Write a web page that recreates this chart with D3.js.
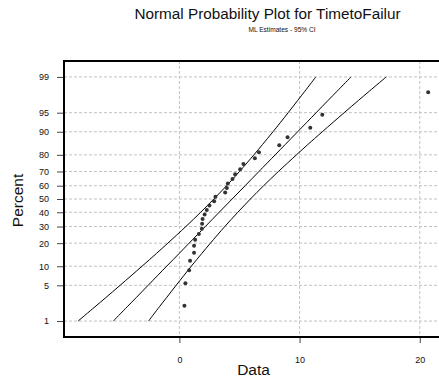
<!DOCTYPE html>
<html>
<head>
<meta charset="utf-8">
<script src="https://cdn.jsdelivr.net/npm/d3@7/dist/d3.min.js"></script>
<style>
  html, body { margin: 0; padding: 0; background: #fff; }
  svg { display: block; font-family: "Liberation Sans", Arial, sans-serif; }
</style>
</head>
<body>
<svg id="chart" width="439" height="381"></svg>
<script>
// ---- data ----
const dataValues = [0.42, 0.50, 0.81, 0.89, 1.22, 1.22, 1.31, 1.62, 1.87, 1.89,
                    1.93, 2.10, 2.28, 2.50, 2.89, 3.00, 3.81, 3.95, 4.03, 4.42,
                    4.64, 5.06, 5.33, 6.28, 6.62, 8.31, 9.00, 10.89, 11.89, 20.70];
const dataPercents = [2.1, 5.4, 8.7, 12.0, 15.3, 18.6, 21.9, 25.2, 28.5, 31.8,
                      35.1, 38.4, 41.7, 45.0, 48.3, 51.7, 55.0, 58.3, 61.6, 64.9,
                      68.2, 71.5, 74.8, 78.1, 81.4, 84.7, 88.0, 91.3, 94.6, 97.9];
const linePercents = [1, 2, 3, 5, 10, 15, 20, 30, 40, 50, 60, 70, 80, 85, 90, 95, 97, 98, 99];
const fitX   = [-5.50, -4.34, -3.60, -2.60, -1.06, -0.01, 0.81, 2.16, 3.31, 4.39,
                5.47, 6.62, 7.97, 8.80, 9.84, 11.38, 12.38, 13.12, 14.28];
const lowerX = [-8.43, -7.02, -6.13, -4.93, -3.11, -1.90, -0.96, 0.54, 1.77, 2.87,
                3.93, 5.00, 6.20, 6.91, 7.79, 9.05, 9.85, 10.44, 11.35];
const upperX = [-2.57, -1.66, -1.07, -0.27, 0.99, 1.87, 2.58, 3.78, 4.86, 5.91,
                7.01, 8.24, 9.74, 10.68, 11.89, 13.71, 14.91, 15.80, 17.21];
const yTickPercents = [1, 5, 10, 20, 30, 40, 50, 60, 70, 80, 90, 95, 99];
const xTickValues = [0, 10, 20];
const titleText = "Normal Probability Plot for TimetoFailur";
const subtitleText = "ML Estimates - 95% CI";
const xLabel = "Data";
const yLabel = "Percent";

// inverse standard normal CDF (Acklam)
function probit(p) {
  const a = [-3.969683028665376e+01, 2.209460984245205e+02, -2.759285104469687e+02,
             1.383577518672690e+02, -3.066479806614716e+01, 2.506628277459239e+00];
  const b = [-5.447609879822406e+01, 1.615858368580409e+02, -1.556989798598866e+02,
             6.680131188771972e+01, -1.328068155288572e+01];
  const c = [-7.784894002430293e-03, -3.223964580411365e-01, -2.400758277161838e+00,
             -2.549732539343734e+00, 4.374664141464968e+00, 2.938163982698783e+00];
  const d = [7.784695709041462e-03, 3.224671290700398e-01, 2.445134137142996e+00,
             3.754408661907416e+00];
  const pl = 0.02425, ph = 1 - pl;
  let q, r;
  if (p < pl) {
    q = Math.sqrt(-2 * Math.log(p));
    return (((((c[0]*q+c[1])*q+c[2])*q+c[3])*q+c[4])*q+c[5]) / ((((d[0]*q+d[1])*q+d[2])*q+d[3])*q+1);
  } else if (p <= ph) {
    q = p - 0.5; r = q * q;
    return (((((a[0]*r+a[1])*r+a[2])*r+a[3])*r+a[4])*r+a[5])*q / (((((b[0]*r+b[1])*r+b[2])*r+b[3])*r+b[4])*r+1);
  } else {
    q = Math.sqrt(-2 * Math.log(1 - p));
    return -(((((c[0]*q+c[1])*q+c[2])*q+c[3])*q+c[4])*q+c[5]) / ((((d[0]*q+d[1])*q+d[2])*q+d[3])*q+1);
  }
}
const zOf = pct => probit(pct / 100);

// ---- layout ----
const plotLeft = 64, plotTop = 61, plotBottom = 337, plotRight = 445;
const svg = d3.select("#chart");

const x = d3.scaleLinear().domain([-9.6, 22.1]).range([plotLeft, plotRight]);
const y = d3.scaleLinear().domain([-2.63, 2.63]).range([plotBottom, plotTop]);

// gridlines
const grid = svg.append("g");
grid.selectAll("line.h").data(yTickPercents).join("line").attr("class", "h")
  .attr("x1", plotLeft).attr("x2", 439)
  .attr("y1", d => y(zOf(d))).attr("y2", d => y(zOf(d)))
  .attr("stroke", "#c2c2c2").attr("stroke-width", 1).attr("stroke-dasharray", "3,2");
grid.selectAll("line.v").data(xTickValues).join("line").attr("class", "v")
  .attr("x1", d => x(d)).attr("x2", d => x(d))
  .attr("y1", plotTop).attr("y2", plotBottom)
  .attr("stroke", "#c2c2c2").attr("stroke-width", 1).attr("stroke-dasharray", "3,2");

// axes
const yAxis = d3.axisLeft(y)
  .tickValues(yTickPercents.map(zOf))
  .tickFormat((d, i) => yTickPercents[i])
  .tickSize(7).tickPadding(8);
const gy = svg.append("g").attr("transform", `translate(${plotLeft},0)`).call(yAxis);
gy.select(".domain").remove();
gy.selectAll(".tick line").attr("stroke", "#444");
gy.selectAll(".tick text").attr("font-size", 9).attr("fill", "#111")
  .attr("font-family", "Liberation Sans, Arial, sans-serif");

const xAxis = d3.axisBottom(x).tickValues(xTickValues).tickSize(6).tickPadding(14);
const gx = svg.append("g").attr("transform", `translate(0,${plotBottom})`).call(xAxis);
gx.select(".domain").remove();
gx.selectAll(".tick line").attr("stroke", "#444");
gx.selectAll(".tick text").attr("font-size", 9).attr("fill", "#111")
  .attr("font-family", "Liberation Sans, Arial, sans-serif");

// frame
svg.append("path")
  .attr("d", `M${plotRight},${plotTop}H${plotLeft}V${plotBottom}H${plotRight}`)
  .attr("fill", "none").attr("stroke", "#000").attr("stroke-width", 2);

// fitted line and confidence bands
const lineGen = d3.line().x(d => x(d[0])).y(d => y(zOf(d[1]))).curve(d3.curveCatmullRom);
[lowerX, fitX, upperX].forEach(arr => {
  svg.append("path")
    .datum(arr.map((v, i) => [v, linePercents[i]]))
    .attr("d", lineGen)
    .attr("fill", "none").attr("stroke", "#000").attr("stroke-width", 1);
});

// data points
svg.append("g").selectAll("circle").data(dataValues).join("circle")
  .attr("cx", d => x(d))
  .attr("cy", (d, i) => y(zOf(dataPercents[i])))
  .attr("r", 2).attr("fill", "#333");

// titles
svg.append("text").attr("x", 267.5).attr("y", 19).attr("text-anchor", "middle")
  .attr("font-size", 15.3).attr("fill", "#111").text(titleText);
svg.append("text").attr("x", 282).attr("y", 31.5).attr("text-anchor", "middle")
  .attr("font-size", 6.6).attr("fill", "#111").text(subtitleText);
svg.append("text").attr("x", 253.5).attr("y", 375).attr("text-anchor", "middle")
  .attr("font-size", 15.5).attr("fill", "#111").text(xLabel);
svg.append("text").attr("transform", "translate(23,200.5) rotate(-90)")
  .attr("text-anchor", "middle").attr("font-size", 15.5).attr("fill", "#111").text(yLabel);
</script>
</body>
</html>
